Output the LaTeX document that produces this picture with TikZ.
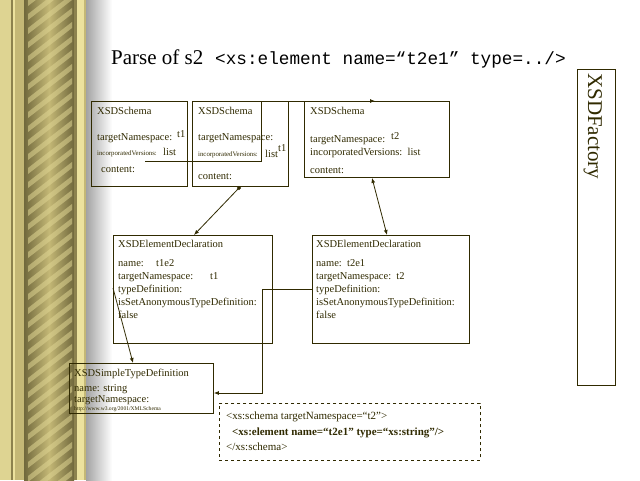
\documentclass[tikz,border=0pt]{standalone}
\usepackage{fontspec}
\setmainfont{Liberation Serif}
\setmonofont{Liberation Mono}
\usetikzlibrary{arrows.meta,calc}
\definecolor{ink}{RGB}{48,42,0}
\definecolor{khLight}{RGB}{222,212,146}
\definecolor{khMid}{RGB}{196,184,118}
\definecolor{khDark}{RGB}{140,130,78}
\definecolor{khDeep}{RGB}{112,104,60}
\definecolor{khBright}{RGB}{236,226,158}
\begin{document}
\begin{tikzpicture}[x=1pt,y=-1pt,
  box/.style={draw=ink, line width=0.9pt, inner sep=0pt, anchor=north west},
  lbl/.style={anchor=base west, inner sep=0pt, text=ink, font=\fontsize{10.5}{12}\selectfont},
  tiny/.style={anchor=base west, inner sep=0pt, text=ink, font=\fontsize{6.8}{7}\selectfont},
  link/.style={draw=ink, line width=0.8pt},
  tip/.style={-{Latex[length=5pt,width=4pt]}},
  sqtip/.style={{Square[length=3pt,width=3pt]}-{Latex[length=5pt,width=4pt]}},
  bothtip/.style={{Latex[length=5pt,width=4pt]}-{Latex[length=5pt,width=4pt]}},
]
\useasboundingbox (0,0) rectangle (640,480);
\fill[white] (0,0) rectangle (640,480);

% decorative column on the left edge
\fill[khLight] (0,0) rectangle (86,480);
\fill[khDark] (11,0) rectangle (13,480);
\fill[khBright] (13,0) rectangle (15,480);
\fill[khMid] (15,0) rectangle (24,480);
\shade[left color=khDeep, right color=khDeep, middle color=khMid] (24,0) rectangle (74,480);
\begin{scope}
  \clip (28,0) rectangle (72,480);
  \foreach \k in {-3,...,40} {
    \fill[khLight, opacity=0.55] (28,\k*14) -- (72,\k*14-34) -- (72,\k*14-28) -- (28,\k*14+6) -- cycle;
  }
\end{scope}
\fill[khDark] (74,0) rectangle (77,480);
\fill[khBright] (77,0) rectangle (84,480);
\fill[khMid] (84,0) rectangle (86,480);
\shade[left color=black!36, right color=white] (86,0) rectangle (112,480);

% heading
\node[anchor=base west, inner sep=0pt, font=\fontsize{21}{24}\selectfont] (title) at (111,64) {Parse of s2};
\node[anchor=base west, inner sep=0pt, font=\ttfamily\fontsize{17.7}{20}\selectfont] (titlecode) at (215,64) {<xs:element name=“t2e1” type=../>};

% factory column
\node[box, minimum width=38pt, minimum height=316pt] (fac) at (577,69) {};
\node[anchor=base west, inner sep=0pt, rotate=-90, text=ink, font=\fontsize{21}{23}\selectfont] (facname) at (588,73) {XSDFactory};

% schema objects
\node[box, minimum width=96pt, minimum height=85pt] (sA) at (91,101) {};
\node[box, minimum width=96pt, minimum height=85pt] (sB) at (192,101) {};
\node[box, minimum width=145pt, minimum height=76pt] (sC) at (304,101) {};

\node[lbl] (aT) at (97,114) {XSDSchema};
\node[lbl] (aNs) at (97,140) {targetNamespace:};
\node[lbl] (aNsV) at (177,137) {t1};
\node[tiny] (aInc) at (97,155) {incorporatedVersions:};
\node[lbl] (aIncV) at (163,155) {list};
\node[lbl] (aCont) at (101,172) {content:};

\node[lbl] (bT) at (198,114) {XSDSchema};
\node[lbl] (bNs) at (198,140) {targetNamespace:};
\node[tiny] (bInc) at (198,156) {incorporatedVersions:};
\node[lbl] (bIncV) at (265,157) {list};
\node[lbl] (bIncS) at (278,151) {t1};
\node[lbl] (bCont) at (198,179) {content:};

\node[lbl] (cT) at (310,114) {XSDSchema};
\node[lbl] (cNs) at (310,142) {targetNamespace:};
\node[lbl] (cNsV) at (391,139) {t2};
\node[lbl] (cInc) at (310,155) {incorporatedVersions:\ \ list};
\node[lbl] (cCont) at (310,173) {content:};

% element declarations
\node[box, minimum width=159pt, minimum height=108pt] (dD) at (113,235) {};
\node[box, minimum width=157pt, minimum height=108pt] (dE) at (312,235) {};

\node[lbl] (dT) at (118,247) {XSDElementDeclaration};
\node[lbl] (dN) at (118,266) {name:};
\node[lbl] (dNV) at (156,266) {t1e2};
\node[lbl] (dNs) at (118,279) {targetNamespace:};
\node[lbl] (dNsV) at (210,279) {t1};
\node[lbl] (dTd) at (118,292) {typeDefinition:};
\node[lbl] (dAn) at (118,305) {isSetAnonymousTypeDefinition:};
\node[lbl] (dF) at (118,318) {false};

\node[lbl] (eT) at (316,247) {XSDElementDeclaration};
\node[lbl] (eN) at (316,266) {name:\ \ t2e1};
\node[lbl] (eNs) at (316,279) {targetNamespace:\ \ t2};
\node[lbl] (eTd) at (316,292) {typeDefinition:};
\node[lbl] (eAn) at (316,305) {isSetAnonymousTypeDefinition:};
\node[lbl] (eF) at (316,318) {false};

% simple type
\node[box, minimum width=144pt, minimum height=50pt] (sF) at (69,363) {};
\node[lbl] (fT) at (74,376) {XSDSimpleTypeDefinition};
\node[lbl] (fN) at (74,391) {name: string};
\node[lbl] (fNs) at (74,402) {targetNamespace:};
\node[tiny, font=\fontsize{5.6}{6}\selectfont] (fUri) at (74,410) {http://www.w3.org/2001/XMLSchema};

% source fragment
\node[box, draw=ink, dashed, line width=0.8pt, minimum width=261pt, minimum height=57pt] (src) at (219,403) {};
\node[lbl, font=\fontsize{11}{13}\selectfont] (src1) at (226,419) {<xs:schema targetNamespace=“t2”>};
\node[lbl, font=\bfseries\fontsize{11}{13}\selectfont] (src2) at (232,435) {<xs:element name=“t2e1” type=“xs:string”/>};
\node[lbl, font=\fontsize{11}{13}\selectfont] (src3) at (226,450) {</xs:schema>};

% connectors
\draw[link,tip] ($(sA.north west)+(54,60)$) -| ($(sB.north west)+(69,0)$) -- ($(sC.north west)+(71,0)$);
\draw[link,sqtip] ($(sB.south west)+(48,0)$) -- ($(dD.north west)+(81,0)$);
\draw[link,bothtip] ($(sC.south west)+(68,0)$) -- ($(dE.north west)+(75,0)$);
\draw[link,tip] ($(dD.north west)+(0,53)$) -- ($(sF.north west)+(64,0)$);
\draw[link,tip] ($(dE.north west)+(0,54)$) -- ++(-50,0) |- ($(sF.north east)+(0,30)$);
\end{tikzpicture}
\end{document}
